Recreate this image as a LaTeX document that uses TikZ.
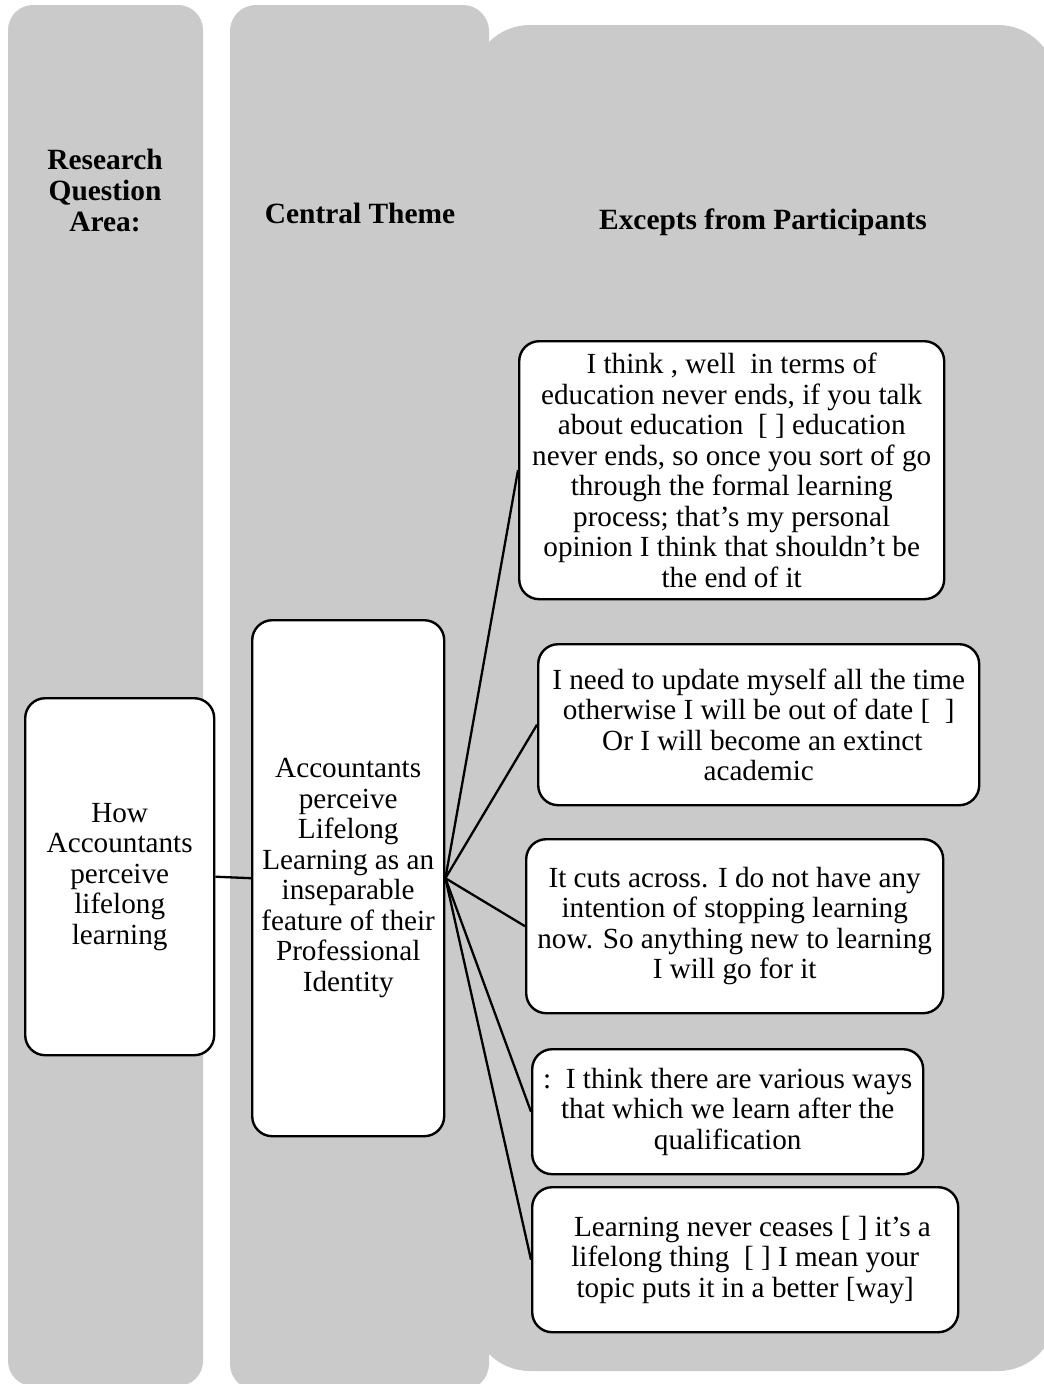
\documentclass[tikz,border=0pt]{standalone}
\usepackage{fontspec}
\setmainfont{Liberation Serif}
\definecolor{panelgray}{RGB}{202,202,202}
\begin{document}
\begin{tikzpicture}[x=1pt,y=-1pt,
  card/.style={draw=black, fill=white, line width=2.4pt, rounded corners=20pt,
    align=center, anchor=north west, inner sep=0pt,
    font=\fontsize{29.2}{30.5}\selectfont},
  head/.style={align=center, font=\fontsize{29.4}{31}\selectfont\bfseries},
  link/.style={draw=black, line width=2.3pt}]
\useasboundingbox (0,0) rectangle (1044,1384);

% background columns
\begin{scope}
\clip (0,0) rectangle (1044,1384);
\fill[panelgray, rounded corners=58pt] (472,25) rectangle (1056,1371);
\fill[panelgray, rounded corners=26pt] (230,5) rectangle (489,1390);
\fill[panelgray, rounded corners=25pt] (8,5) rectangle (203,1386);
\end{scope}

% column headings
\node[head] (h1) at (105,191) {Research\\Question\\Area:};
\node[head] (h2) at (360,213) {Central Theme};
\node[head] (h3) at (763,222) {Excepts from Participants};

% question area and central theme
\node[card, minimum width=189pt, minimum height=357pt] (area) at (24,697)
  {How\\Accountants\\perceive\\lifelong\\learning};
\node[card, minimum width=192pt, minimum height=516pt] (theme) at (251,619)
  {Accountants\\perceive\\Lifelong\\Learning as an\\inseparable\\feature of their\\Professional\\Identity};

% participant excerpts
\node[card, minimum width=425pt, minimum height=258pt] (q1) at (518,340)
  {I think , well\ \ in terms of\\
   education never ends, if you talk\\
   about education\ \ [ ] education\\
   never ends, so once you sort of go\\
   through the formal learning\\
   process; that’s my personal\\
   opinion I think that shouldn’t be\\
   the end of it};
\node[card, minimum width=441pt, minimum height=161pt] (q2) at (537,643)
  {I need to update myself all the time\\
   otherwise I will be out of date [\ \ ]\\
   \ Or I will become an extinct\\
   academic};
\node[card, minimum width=417pt, minimum height=174pt] (q3) at (525,838)
  {It cuts across. I do not have any\\
   intention of stopping learning\\
   now. So anything new to learning\\
   I will go for it};
\node[card, minimum width=391pt, minimum height=125pt] (q4) at (531,1048)
  {:\ \ I think there are various ways\\
   that which we learn after the\\
   qualification};
\node[card, minimum width=426pt, minimum height=145pt] (q5) at (531,1186)
  {\ \ Learning never ceases [ ] it’s a\\
   lifelong thing\ \ [ ] I mean your\\
   topic puts it in a better [way]};

% connectors
\draw[link] (area.east) -- (theme.west);
\foreach \q in {q1,q2,q3,q4,q5}
  \draw[link] (theme.east) -- (\q.west);
\end{tikzpicture}
\end{document}
